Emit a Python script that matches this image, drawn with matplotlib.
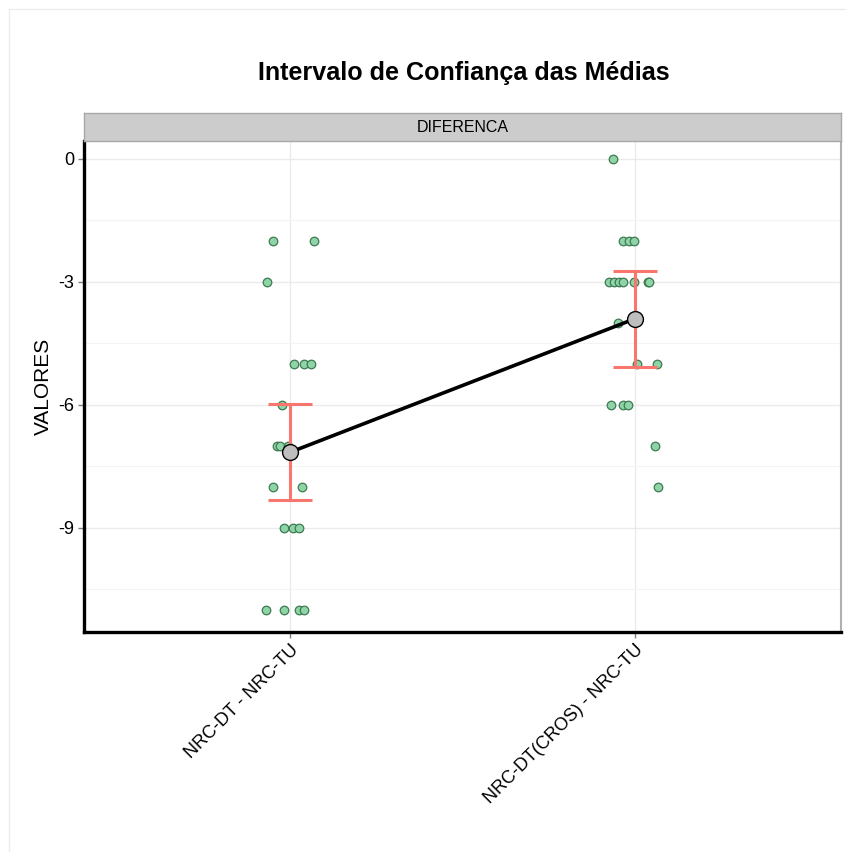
import numpy as np
import matplotlib
matplotlib.use("Agg")
import matplotlib.pyplot as plt
from matplotlib.lines import Line2D

plt.rcParams['font.family'] = ['Liberation Sans', 'DejaVu Sans']

categories = ["NRC-DT - NRC-TU", "NRC-DT(CROS) - NRC-TU"]

# observed values per group and their horizontal jitter (in category units)
vals_1 = [-2, -2, -3, -5, -5, -5, -6, -7, -7, -7, -8, -8, -9, -9, -9, -11, -11, -11, -11]
jit_1 = [-0.052, 0.067, -0.067, 0.009, 0.038, 0.061, -0.026, -0.038, -0.029, -0.006,
         -0.052, 0.035, -0.020, 0.006, 0.026, -0.070, -0.020, 0.026, 0.038]
vals_2 = [0, -2, -2, -2, -3, -3, -3, -3, -3, -3, -3, -4, -5, -5, -6, -6, -6, -7, -8]
jit_2 = [-0.064, -0.035, -0.015, -0.003, -0.073, -0.061, -0.044, -0.035, -0.003, 0.038,
         0.041, -0.049, 0.006, 0.064, -0.067, -0.035, -0.020, 0.058, 0.067]

means = [-7.15, -3.90]
ci_low = [-8.32, -5.08]
ci_high = [-5.98, -2.73]

fig = plt.figure(figsize=(8.46, 8.52), dpi=100)
ax = fig.add_axes([84 / 846, 1 - 632 / 852, 757 / 846, 491 / 852])

xpos = np.arange(1, len(categories) + 1)

# grid
ax.set_axisbelow(True)
ax.set_yticks([0, -3, -6, -9])
ax.set_yticks([-1.5, -4.5, -7.5, -10.5], minor=True)
ax.grid(True, which='major', color='#ebebeb', lw=1.0)
ax.grid(True, which='minor', axis='y', color='#f4f4f4', lw=0.8)

# jittered points
pt_fc = (0.56, 0.83, 0.65)
pt_ec = (0.24, 0.48, 0.32)
for x0, vals, jit in [(1, vals_1, jit_1), (2, vals_2, jit_2)]:
    ax.scatter(x0 + np.array(jit), vals, s=38, facecolor=pt_fc, edgecolor=pt_ec,
               linewidths=0.9, zorder=3)

# confidence intervals
means = np.array(means)
yerr = np.vstack([means - np.array(ci_low), np.array(ci_high) - means])
ax.errorbar(xpos, means, yerr=yerr, fmt='none', ecolor='#f8766d', elinewidth=2.2,
            capsize=16, capthick=2.2, zorder=4)

# mean line and points
ax.plot(xpos, means, color='black', lw=2.6, zorder=5)
ax.scatter(xpos, means, s=130, facecolor='#bebebe', edgecolor='black', linewidths=1.0, zorder=6)

ax.set_xlim(0.4, 2.6)
ax.set_ylim(-11.537, 0.439)
ax.set_xticks(xpos)
ax.set_xticklabels(categories, rotation=45, ha='right', rotation_mode='anchor', fontsize=13)
ax.set_yticklabels(['0', '-3', '-6', '-9'], fontsize=13)
ax.tick_params(axis='both', which='major', length=4, width=1, color='#7f7f7f', pad=3)
ax.tick_params(axis='y', which='minor', length=0)
ax.set_ylabel("VALORES", fontsize=15)
ax.yaxis.set_label_coords(-0.041, 0.5)

for s in ['left', 'bottom']:
    ax.spines[s].set_color('black')
    ax.spines[s].set_linewidth(2.4)
ax.spines['right'].set_color('#b0b0b0')
ax.spines['right'].set_linewidth(1.5)
ax.spines['top'].set_visible(False)

# facet strip
strip = fig.add_axes([84 / 846, 1 - 141 / 852, 757 / 846, 28 / 852])
strip.set_facecolor('#cccccc')
strip.set_xticks([])
strip.set_yticks([])
for s in strip.spines.values():
    s.set_color('#a8a8a8')
    s.set_linewidth(1.0)
strip.text(0.5, 0.5, "DIFERENCA", ha='center', va='center', fontsize=11.5, transform=strip.transAxes)

fig.text(464 / 846, 1 - 73 / 852, "Intervalo de Confiança das Médias", ha='center', va='center',
         fontsize=18.1, fontweight='bold')

# faint outer frame
fig.add_artist(Line2D([9 / 846, 9 / 846], [0, 1 - 9 / 852], transform=fig.transFigure,
                      color='#ececec', lw=1))
fig.add_artist(Line2D([9 / 846, 1], [1 - 9 / 852, 1 - 9 / 852], transform=fig.transFigure,
                      color='#ececec', lw=1))

fig.savefig("out.png", dpi=100)
